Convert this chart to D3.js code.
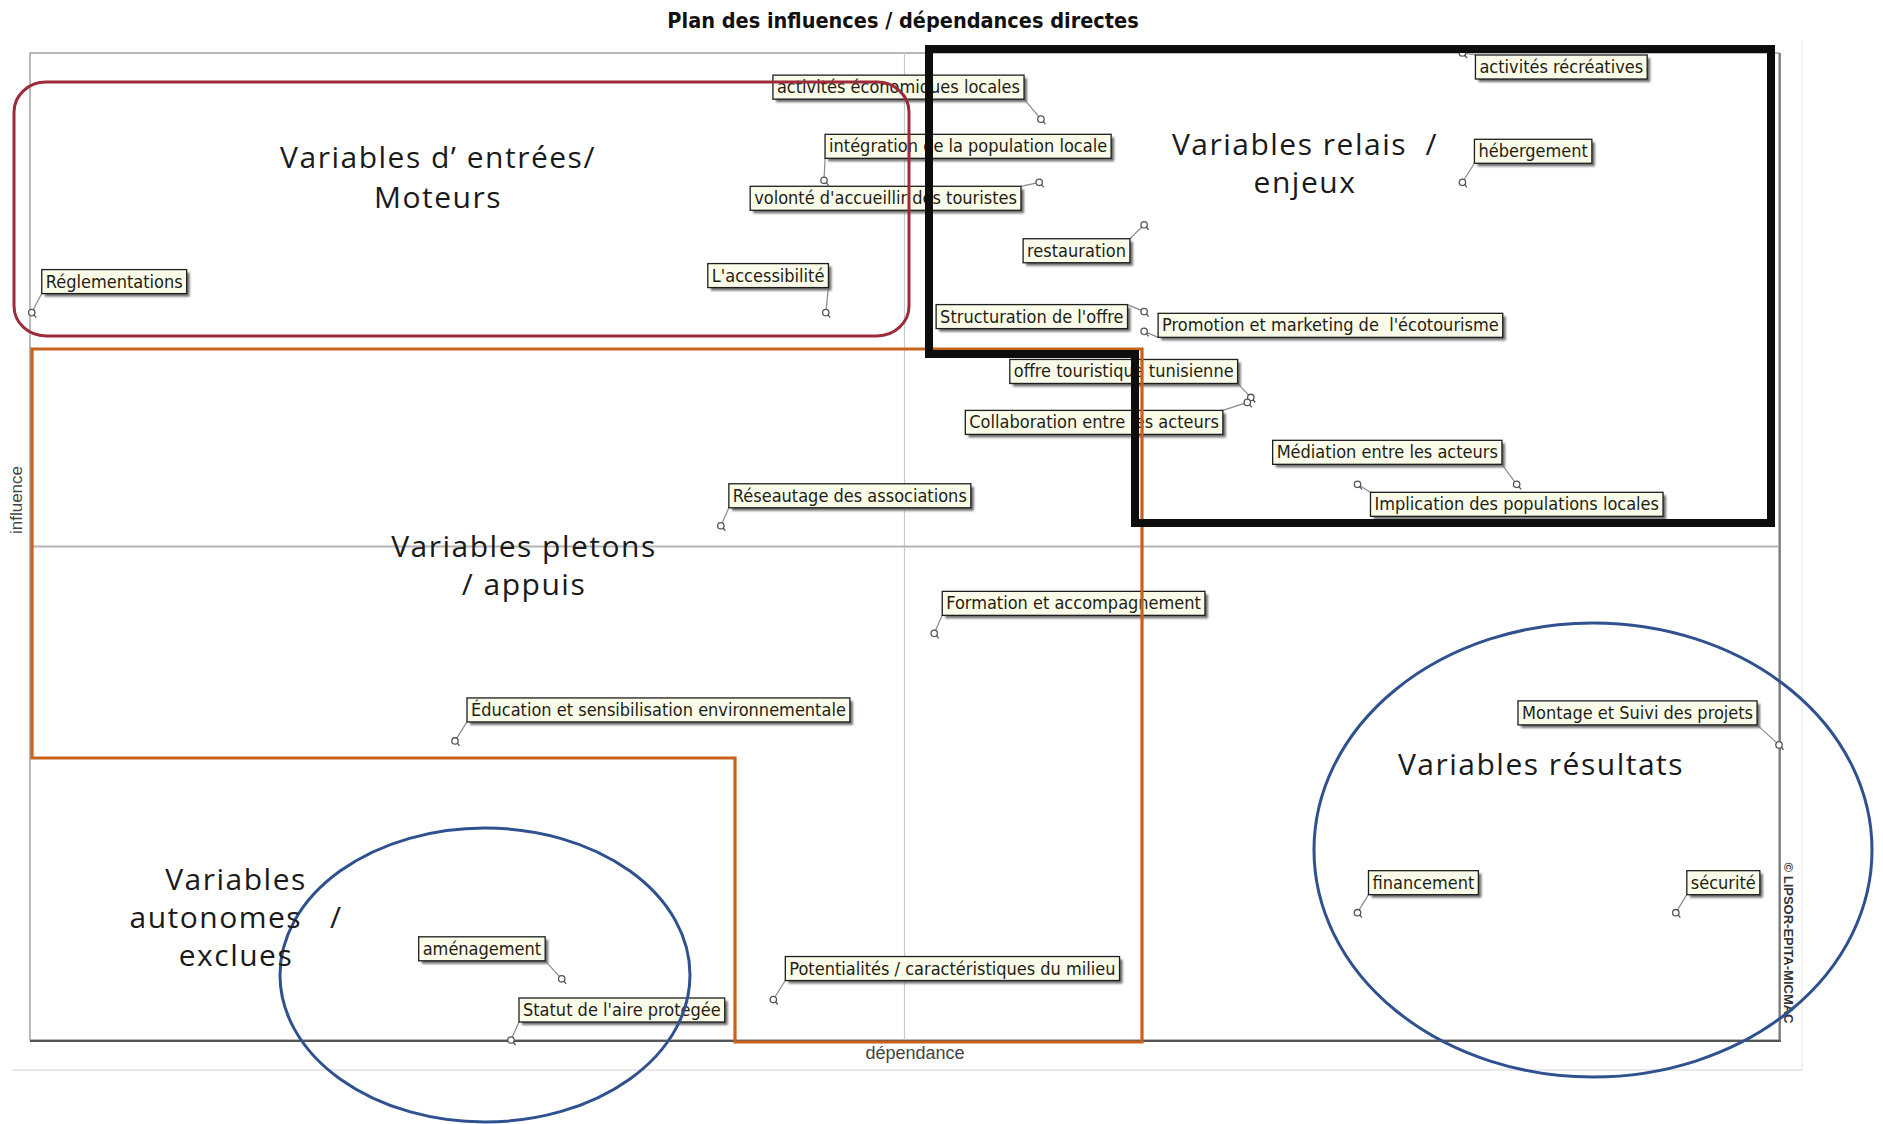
<!DOCTYPE html>
<html><head><meta charset="utf-8">
<script src="https://cdn.jsdelivr.net/npm/d3@7"></script>
<style>
html,body{margin:0;padding:0;background:#fff;}
svg{display:block;}
.lbl{font-family:"Liberation Sans Narrow","Arial Narrow","DejaVu Sans Condensed",sans-serif;font-size:18px;fill:#1e1e14;white-space:pre;}
.annot{font-family:"Open Sans",Lato,sans-serif;font-size:30px;letter-spacing:1.5px;fill:#1a1a1a;white-space:pre;}
</style></head>
<body>
<svg id="chart" width="1883" height="1124"></svg>
<script>
// ---------- DATA ----------
const title = "Plan des influences / dépendances directes";
const xAxisLabel = "dépendance";
const yAxisLabel = "influence";
const credit = "© LIPSOR-EPITA-MICMAC";
const variables = [
  "activités récréatives","activités économiques locales","intégration de la population locale",
  "volonté d'accueillir des touristes","hébergement","restauration","Réglementations",
  "L'accessibilité","Structuration de l'offre","Promotion et marketing de  l'écotourisme",
  "offre touristique tunisienne","Collaboration entre les acteurs","Médiation entre les acteurs",
  "Implication des populations locales","Réseautage des associations","Formation et accompagnement",
  "Éducation et sensibilisation environnementale","Montage et Suivi des projets","financement",
  "sécurité","aménagement","Statut de l'aire protégée","Potentialités / caractéristiques du milieu"
];
const dependance = [81.9,57.8,45.4,57.7,81.9,63.7,0.1,45.5,63.7,63.7,69.8,69.6,85.0,75.9,39.5,51.7,24.3,100,75.9,94.1,30.4,27.5,42.5];
const influence  = [100,93.3,87.1,86.9,86.9,82.6,73.7,73.7,73.8,71.8,65.1,64.6,56.3,56.3,52.1,41.2,30.3,29.9,12.9,12.9,6.2,0,4.1];
const meanDependance = 50;
const meanInfluence = 50;
const groupTitles = [
  ["Variables d\u2019 entrées/","Moteurs"],
  ["Variables relais  /","enjeux"],
  ["Variables pletons","/ appuis"],
  ["Variables","autonomes   /","exclues"],
  ["Variables résultats"]
];

// ---------- LAYOUT ----------
const W = 1883, H = 1124;
const plot = {left:30, right:1779, top:53, bottom:1040};
// label box offsets (px) from each point
const labelOffsets = [[13,2],[-268,-44],[1,-46],[-289,4],[12,-43],[-121,14],[10,-43],[-118,-49],[-208,-7],[14,-18],
  [-241,-38],[-282,8],[-244,-44],[13,8],[8,-42],[8,-42],[12,-43],[-261,-44],[11,-42],[11,-42],[-143,-42],[8,-42],[12,-43]];
const groupTitlePos = [[438,168,40],[1305,155,38],[524,557,38],[236,890,38],[1541,775,38]];

const svg = d3.select("#chart");
const x = d3.scaleLinear().domain([0,100]).range([plot.left, plot.right]);
const y = d3.scaleLinear().domain([0,100]).range([plot.bottom, plot.top]);

// outer faint frame
svg.append("line").attr("x1",12).attr("x2",1802).attr("y1",1070).attr("y2",1070).attr("stroke","#e2e2e2").attr("stroke-width",1.5);
svg.append("line").attr("x1",1802).attr("x2",1802).attr("y1",40).attr("y2",1070).attr("stroke","#ececec").attr("stroke-width",1.5);

// title
svg.append("text").attr("x",903).attr("y",28).attr("text-anchor","middle")
  .style("font-family",'"Liberation Sans Narrow","Arial Narrow","DejaVu Sans Condensed",sans-serif')
  .style("font-weight","bold").style("font-size","21.5px").attr("fill","#111").text(title);

// plot frame
svg.append("rect").attr("x",plot.left).attr("y",plot.top).attr("width",plot.right-plot.left).attr("height",plot.bottom-plot.top)
  .attr("fill","none").attr("stroke","#8a8a8a").attr("stroke-width",1.2);
svg.append("line").attr("x1",plot.left).attr("x2",plot.right+2).attr("y1",plot.bottom+1).attr("y2",plot.bottom+1).attr("stroke","#555").attr("stroke-width",2);
svg.append("line").attr("x1",plot.right+1).attr("x2",plot.right+1).attr("y1",plot.top).attr("y2",plot.bottom+2).attr("stroke","#666").attr("stroke-width",1.5);

// mean lines
svg.append("line").attr("x1",x(meanDependance)).attr("x2",x(meanDependance)).attr("y1",plot.top).attr("y2",plot.bottom)
  .attr("stroke","#c8c8c8").attr("stroke-width",1.2);
svg.append("line").attr("x1",plot.left).attr("x2",plot.right).attr("y1",y(meanInfluence)).attr("y2",y(meanInfluence))
  .attr("stroke","#b4b4b4").attr("stroke-width",2);

// axis labels
svg.append("text").attr("x",915).attr("y",1059).attr("text-anchor","middle")
  .style("font-family",'"Liberation Sans Narrow","Liberation Sans",sans-serif').style("font-size","18px").attr("fill","#444").text(xAxisLabel);
svg.append("text").attr("transform","translate(22,500) rotate(-90)").attr("text-anchor","middle")
  .style("font-family",'"Liberation Sans",sans-serif').style("font-size","17px").attr("fill","#444").text(yAxisLabel);
svg.append("text").attr("transform","translate(1784,943) rotate(90)").attr("text-anchor","middle")
  .style("font-family",'"Liberation Sans Narrow","Liberation Sans",sans-serif').style("font-weight","bold").style("font-size","13px").attr("fill","#333").text(credit);

// shadow filter
const defs = svg.append("defs");
defs.append("filter").attr("id","blur").append("feGaussianBlur").attr("stdDeviation",1.2);

const data = variables.map((n,i)=>({name:n, dep:dependance[i], inf:influence[i], off:labelOffsets[i]}));

const g = svg.append("g");
const items = g.selectAll("g.item").data(data).join("g").attr("class","item");

items.each(function(d){
  const sel = d3.select(this);
  const px = x(d.dep), py = y(d.inf);
  const bx = px + d.off[0], by = py + d.off[1];
  const t = sel.append("text").attr("class","lbl").attr("x",bx+4).attr("y",by+18).text(d.name);
  const tw = t.node().getComputedTextLength();
  const bw = tw + 8, bh = 24;
  // leader line to nearest corner
  const corners = [[bx,by],[bx+bw,by],[bx,by+bh],[bx+bw,by+bh]];
  let best = corners[0], bd = 1e9;
  corners.forEach(c=>{const dd=(c[0]-px)**2+(c[1]-py)**2; if(dd<bd){bd=dd;best=c;}});
  sel.insert("line","text").attr("x1",px).attr("y1",py).attr("x2",best[0]).attr("y2",best[1]).attr("stroke","#8a8a8a").attr("stroke-width",1.2);
  sel.insert("rect","text").attr("x",bx+3).attr("y",by+3).attr("width",bw).attr("height",bh).attr("fill","#6e6e6e").attr("filter","url(#blur)");
  sel.insert("rect","text").attr("x",bx).attr("y",by).attr("width",bw).attr("height",bh).attr("fill","#fbfbea").attr("stroke","#1e1e1e").attr("stroke-width",1.3);
  // point marker
  sel.append("circle").attr("cx",px).attr("cy",py).attr("r",3.2).attr("fill","#fff").attr("stroke","#555").attr("stroke-width",1.3);
  sel.append("line").attr("x1",px+2).attr("y1",py+2).attr("x2",px+4.5).attr("y2",py+5).attr("stroke","#555").attr("stroke-width",1.3);
});

// ---------- hand-drawn annotations ----------
const ann = svg.append("g").attr("fill","none");
ann.append("rect").attr("x",14).attr("y",82).attr("width",895).attr("height",254).attr("rx",32).attr("ry",30)
  .attr("stroke","#9d2b3c").attr("stroke-width",3);
ann.append("path").attr("d","M32,349 L1142,349 L1142,1042 L735,1042 L735,758 L32,758 Z")
  .attr("stroke","#c5621c").attr("stroke-width",3.2);
ann.append("path").attr("d","M929,49 L1771,49 L1771,523 L1135,523 L1135,354 L929,354 Z")
  .attr("stroke","#0d0d0d").attr("stroke-width",8).attr("stroke-linejoin","miter");
ann.append("ellipse").attr("cx",485).attr("cy",975).attr("rx",205).attr("ry",147).attr("stroke","#2f5190").attr("stroke-width",3);
ann.append("ellipse").attr("cx",1593).attr("cy",850).attr("rx",279).attr("ry",227).attr("stroke","#2f5190").attr("stroke-width",3);

// group titles
groupTitles.forEach((lines,i)=>{
  const p = groupTitlePos[i];
  lines.forEach((ln,j)=>{
    svg.append("text").attr("class","annot").attr("x",p[0]).attr("y",p[1]+j*p[2]).attr("text-anchor","middle").text(ln);
  });
});
</script>
</body></html>
